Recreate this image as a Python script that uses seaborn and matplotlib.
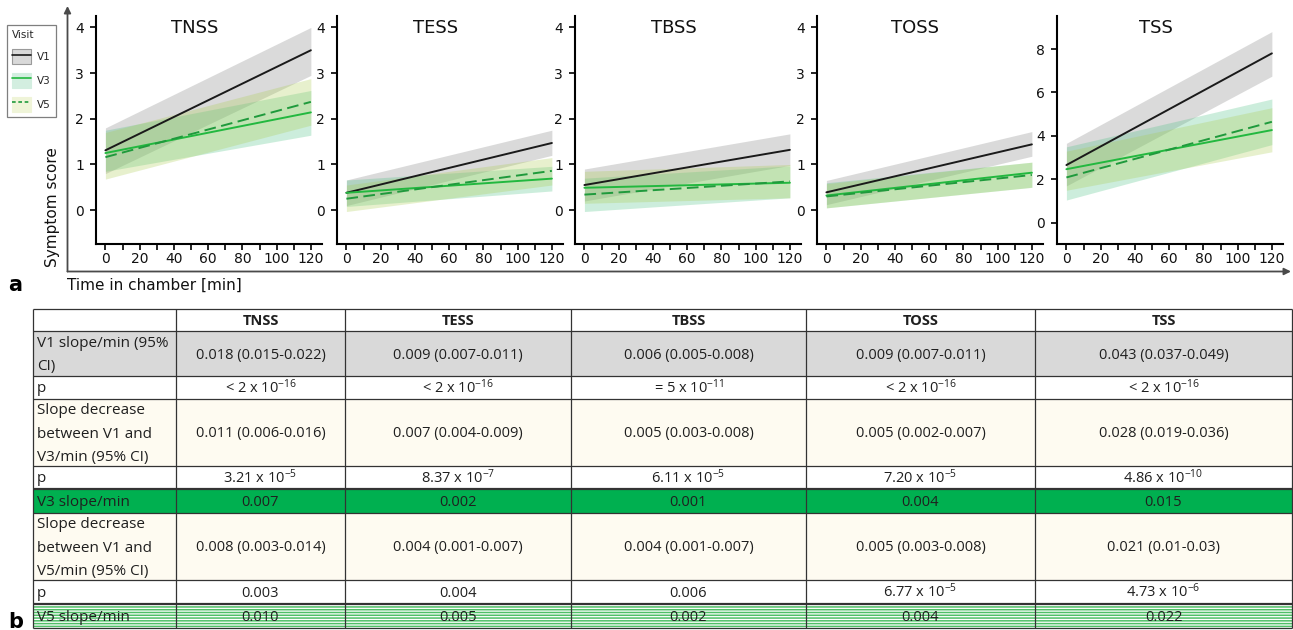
import matplotlib
matplotlib.use("Agg")
import pandas as pd
import matplotlib.pyplot as plt
import seaborn as sns
from matplotlib.patches import Patch, Rectangle
from matplotlib.lines import Line2D

# ---------------- data ----------------
PANELS = ["TNSS", "TESS", "TBSS", "TOSS", "TSS"]
VISITS = ["V1", "V3", "V5"]
TIME = [0, 120]

# fitted score at 0 and 120 min, plus lower / upper edge of the 95% band
V1_FIT = [[1.31, 3.50], [0.38, 1.47], [0.55, 1.32], [0.39, 1.44], [2.66, 7.80]]
V1_LO = [[0.80, 2.95], [0.10, 1.20], [0.20, 0.98], [0.12, 1.18], [1.70, 6.75]]
V1_HI = [[1.80, 4.00], [0.66, 1.75], [0.90, 1.67], [0.65, 1.72], [3.66, 8.80]]
V3_FIT = [[1.25, 2.14], [0.38, 0.69], [0.49, 0.60], [0.32, 0.82], [2.47, 4.27]]
V3_LO = [[0.85, 1.64], [0.08, 0.42], [-0.03, 0.27], [0.05, 0.50], [1.05, 3.60]]
V3_HI = [[1.75, 2.62], [0.66, 0.96], [0.70, 0.97], [0.60, 1.05], [3.50, 5.70]]
V5_FIT = [[1.16, 2.37], [0.25, 0.86], [0.34, 0.63], [0.30, 0.77], [2.09, 4.65]]
V5_LO = [[0.68, 1.86], [-0.03, 0.55], [0.15, 0.27], [0.05, 0.50], [1.50, 3.27]]
V5_HI = [[1.70, 2.88], [0.55, 1.15], [0.85, 1.00], [0.58, 1.05], [3.30, 5.30]]

XTICKS = [0, 20, 40, 60, 80, 100, 120]
XMINOR = [10, 30, 50, 70, 90, 110]
SUB_YTICKS = [0, 1, 2, 3, 4]
TSS_YTICKS = [0, 2, 4, 6, 8]

# table (panel b)
ROW_LABELS = [
    [],
    ["V1 slope/min (95%", "CI)"],
    ["p"],
    ["Slope decrease", "between V1 and", "V3/min (95% CI)"],
    ["p"],
    ["V3 slope/min"],
    ["Slope decrease", "between V1 and", "V5/min (95% CI)"],
    ["p"],
    ["V5 slope/min"],
]
V1_SLOPE = ["0.018 (0.015-0.022)", "0.009 (0.007-0.011)", "0.006 (0.005-0.008)",
            "0.009 (0.007-0.011)", "0.043 (0.037-0.049)"]
V1_P = ["< 2 x 10$^{-16}$", "< 2 x 10$^{-16}$", "= 5 x 10$^{-11}$",
        "< 2 x 10$^{-16}$", "< 2 x 10$^{-16}$"]
DEC_V3 = ["0.011 (0.006-0.016)", "0.007 (0.004-0.009)", "0.005 (0.003-0.008)",
          "0.005 (0.002-0.007)", "0.028 (0.019-0.036)"]
DEC_V3_P = ["3.21 x 10$^{-5}$", "8.37 x 10$^{-7}$", "6.11 x 10$^{-5}$",
            "7.20 x 10$^{-5}$", "4.86 x 10$^{-10}$"]
V3_SLOPE = ["0.007", "0.002", "0.001", "0.004", "0.015"]
DEC_V5 = ["0.008 (0.003-0.014)", "0.004 (0.001-0.007)", "0.004 (0.001-0.007)",
          "0.005 (0.003-0.008)", "0.021 (0.01-0.03)"]
DEC_V5_P = ["0.003", "0.004", "0.006", "6.77 x 10$^{-5}$", "4.73 x 10$^{-6}$"]
V5_SLOPE = ["0.010", "0.005", "0.002", "0.004", "0.022"]
TABLE_ROWS = [PANELS, V1_SLOPE, V1_P, DEC_V3, DEC_V3_P, V3_SLOPE, DEC_V5, DEC_V5_P, V5_SLOPE]

# ---------------- style ----------------
sns.set_theme(style="ticks")
plt.rcParams["font.family"] = ["DejaVu Sans"]
plt.rcParams["mathtext.fontset"] = "custom"
plt.rcParams["mathtext.rm"] = "Open Sans"
plt.rcParams["mathtext.it"] = "Open Sans:italic"
plt.rcParams["mathtext.bf"] = "Open Sans:bold"
plt.rcParams["hatch.linewidth"] = 1.1

LINE_COLORS = {"V1": "#1a1a1a", "V3": "#22b83f", "V5": "#1f9a3c"}
DASHES = {"V1": "", "V3": "", "V5": (6, 2.8)}
BAND_COLORS = {"V1": "#a8a8a8", "V3": "#46c07f", "V5": "#a9cc4c"}
BAND_ALPHA = {"V1": 0.42, "V3": 0.27, "V5": 0.28}
LEG_FILL = {"V1": "#d9d9d9", "V3": "#d3eee0", "V5": "#eff4d8"}
LEG_EDGE = {"V1": "#9a9a9a", "V3": "#d3eee0", "V5": "#eff4d8"}
LEG_LS = {"V1": "-", "V3": "-", "V5": (0, (2.2, 1.6))}

TXT = "#1f1f1f"
TFONT = "Open Sans"
STRIPE = "#4fbf66"

W, H = 1293, 630
fig = plt.figure(figsize=(W / 100, H / 100), dpi=100)
fig.patch.set_facecolor("white")

# pixel-coordinate layer for arrows, labels and the table
deco = fig.add_axes([0, 0, 1, 1], zorder=0)
deco.set_xlim(0, W)
deco.set_ylim(H, 0)
deco.axis("off")

# ---------------- panel a: regression lines ----------------
AX_LEFT = [96, 337, 575, 817, 1057]
AX_TOP, AX_BOTTOM, AX_W = 16, 243.5, 226
bands = {"V1": (V1_LO, V1_HI), "V3": (V3_LO, V3_HI), "V5": (V5_LO, V5_HI)}

for i, name in enumerate(PANELS):
    ax = fig.add_axes([AX_LEFT[i] / W, 1 - AX_BOTTOM / H, AX_W / W, (AX_BOTTOM - AX_TOP) / H], zorder=2)
    ax.set_facecolor("none")
    for v in VISITS:
        lo, hi = bands[v]
        ax.fill_between(TIME, lo[i], hi[i], color=BAND_COLORS[v], alpha=BAND_ALPHA[v], linewidth=0)

    df = pd.DataFrame({
        "time": TIME * 3,
        "score": V1_FIT[i] + V3_FIT[i] + V5_FIT[i],
        "visit": ["V1"] * 2 + ["V3"] * 2 + ["V5"] * 2,
    })
    sns.lineplot(data=df, x="time", y="score", hue="visit", style="visit",
                 hue_order=VISITS, style_order=VISITS, palette=LINE_COLORS,
                 dashes=DASHES, linewidth=1.4, legend=False, ax=ax)

    ax.set_xlim(-5.5, 126.5)
    if name == "TSS":
        ax.set_ylim(-0.95, 9.52)
        ax.set_yticks(TSS_YTICKS)
    else:
        ax.set_ylim(-0.73, 4.25)
        ax.set_yticks(SUB_YTICKS)
    ax.set_xticks(XTICKS)
    ax.set_xticks(XMINOR, minor=True)
    ax.tick_params(which="both", direction="out", length=4.3, width=1.2,
                   color="black", labelsize=10, labelcolor="#111111")
    ax.tick_params(axis="x", pad=1.8)
    ax.tick_params(axis="y", pad=4.3)
    ax.set_xlabel("")
    ax.set_ylabel("")
    sns.despine(ax=ax)
    for s in ["left", "bottom"]:
        ax.spines[s].set_linewidth(1.5)
        ax.spines[s].set_color("black")
    ax.text(52, (AX_BOTTOM - 19) / (AX_BOTTOM - AX_TOP), name, transform=ax.get_xaxis_transform(),
            ha="center", va="top", fontsize=13, color="#111111")

# outer axis arrows and labels
arrow_kw = dict(arrowstyle="-|>", color="#4a4a4a", lw=1.3, mutation_scale=10, shrinkA=0, shrinkB=0)
deco.annotate("", xy=(67.5, 6), xytext=(67.5, 271.5), arrowprops=arrow_kw)
deco.annotate("", xy=(1291, 271.5), xytext=(67.5, 271.5), arrowprops=arrow_kw)
deco.text(53, 207, "Symptom score", rotation=90, ha="center", va="center", fontsize=11, color="#111111")
deco.text(67, 290, "Time in chamber [min]", ha="left", va="baseline", fontsize=11, color="#111111")
deco.text(8, 291, "a", ha="left", va="baseline", fontsize=15, fontweight="bold", color="black")
deco.text(8, 628, "b", ha="left", va="baseline", fontsize=15, fontweight="bold", color="black")

# legend
handles = []
for v in VISITS:
    patch = Patch(facecolor=LEG_FILL[v], edgecolor=LEG_EDGE[v], linewidth=0.8)
    line = Line2D([], [], color=LINE_COLORS[v], lw=1.2, linestyle=LEG_LS[v])
    handles.append((patch, line))
leg = fig.legend(handles, VISITS, title="Visit", loc="upper left",
                 bbox_to_anchor=(7 / W, 1 - 25 / H), fontsize=7.5, title_fontsize=7.5,
                 handlelength=1.85, handleheight=1.85, handletextpad=0.5,
                 labelspacing=0.85, borderpad=0.5, borderaxespad=0,
                 frameon=True, fancybox=False, framealpha=1, edgecolor="#7f7f7f",
                 alignment="left")
leg.get_frame().set_linewidth(0.9)

# ---------------- panel b: table ----------------
COL_X = [33, 176, 345, 571, 806, 1035, 1292]
ROW_Y = [309, 331, 376, 399, 466, 489, 513, 580, 604, 628]
ROW_FILLS = ["white", "#d9d9d9", "white", "#fefbf1", "white", "#00b050", "#fefbf1", "white", "stripes"]

for r in range(len(ROW_Y) - 1):
    y0, y1 = ROW_Y[r], ROW_Y[r + 1]
    if ROW_FILLS[r] == "stripes":
        deco.add_patch(Rectangle((COL_X[0], y0 + 0.5), COL_X[-1] - COL_X[0], y1 - y0 - 0.5,
                                 facecolor="white", edgecolor=STRIPE, hatch="------", linewidth=0))
    else:
        deco.add_patch(Rectangle((COL_X[0], y0), COL_X[-1] - COL_X[0], y1 - y0,
                                 facecolor=ROW_FILLS[r], edgecolor="none", linewidth=0))

for r, y in enumerate(ROW_Y):
    lw = 1.6 if y in (489, 604) else 0.9
    deco.plot([COL_X[0], COL_X[-1]], [y, y], color="#333333", lw=lw, solid_capstyle="butt")
for x in COL_X:
    deco.plot([x, x], [ROW_Y[0], ROW_Y[-1]], color="#333333", lw=0.9, solid_capstyle="butt")

for r in range(len(ROW_Y) - 1):
    yc = (ROW_Y[r] + ROW_Y[r + 1]) / 2
    lines = ROW_LABELS[r]
    n = len(lines)
    for k, ln in enumerate(lines):
        deco.text(37, yc + (k - (n - 1) / 2) * 23.3 + 5, ln, ha="left", va="baseline",
                  fontsize=11, family=TFONT, color=TXT)
    for c, val in enumerate(TABLE_ROWS[r]):
        xc = (COL_X[c + 1] + COL_X[c + 2]) / 2
        deco.text(xc, yc + 5, val, ha="center", va="baseline", fontsize=10.5, family=TFONT,
                  color=TXT, fontweight="bold" if r == 0 else "normal")

fig.savefig("out.png", dpi=100, facecolor="white")
